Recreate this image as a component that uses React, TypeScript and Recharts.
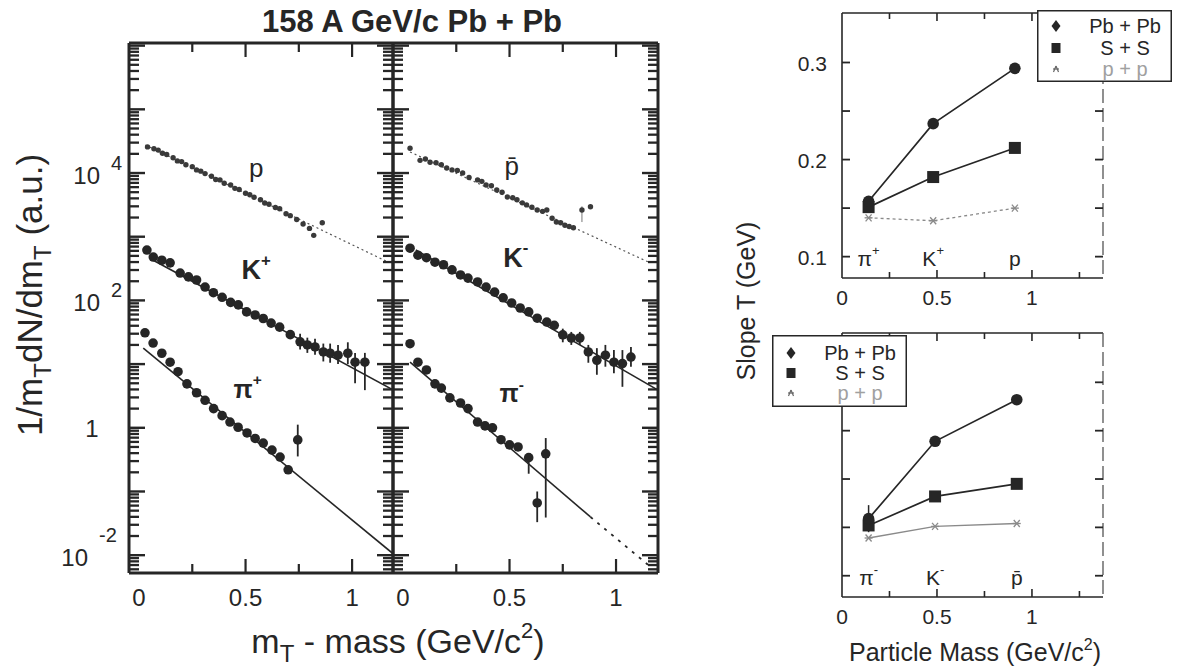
import React from 'react';
import { ComposedChart, Scatter, Line, XAxis, YAxis, ErrorBar, Legend } from 'recharts';

const FONT = '"Liberation Sans", Arial, Helvetica, sans-serif';
const INK = '#262626';
const PAGE_W = 1184;
const PAGE_H = 667;

// ---------------- left figure: m_T spectra ----------------
// rows: [mT - m (GeV/c^2), 1/mT dN/dmT (a.u.), optional error low value, error high value]
const PROTONS: number[][] = [
  [0.04, 25700], [0.07, 24000], [0.09, 22900], [0.11, 20400], [0.13, 19500], [0.16, 17400],
  [0.18, 15500], [0.2, 15100], [0.22, 13500], [0.25, 12600], [0.27, 11200], [0.29, 10700],
  [0.31, 9800], [0.34, 8900], [0.36, 7900], [0.38, 7800], [0.4, 6900], [0.43, 6500],
  [0.45, 5750], [0.47, 5500], [0.5, 4800], [0.52, 4570], [0.54, 4170], [0.57, 3800],
  [0.59, 3390], [0.61, 3240], [0.64, 2880], [0.66, 2750], [0.69, 2290], [0.71, 2140],
  [0.74, 1860], [0.77, 1580], [0.8, 1350], [0.82, 1050], [0.86, 1660],
];
const KAONS_POS: number[][] = [
  [0.037, 617], [0.067, 479], [0.107, 427], [0.146, 389], [0.193, 269], [0.232, 234],
  [0.27, 209], [0.31, 162], [0.349, 132], [0.39, 112], [0.43, 93], [0.466, 85],
  [0.505, 66], [0.545, 59], [0.583, 52], [0.62, 44], [0.66, 38], [0.71, 29],
  [0.756, 22.4, 17, 30], [0.79, 20, 15, 26], [0.826, 18.6, 14, 25], [0.865, 15.5, 11, 21],
  [0.897, 14.8, 10.5, 21], [0.934, 13.8, 10, 20], [0.98, 14.8, 10, 22], [1.014, 10.7, 5, 15],
  [1.06, 10.7, 3.9, 15],
];
const PIONS_POS: number[][] = [
  [0.028, 31], [0.066, 21.4], [0.107, 14.8], [0.146, 10.7], [0.183, 7.6], [0.225, 4.9],
  [0.27, 3.55], [0.31, 2.7], [0.35, 2.0], [0.39, 1.55], [0.427, 1.23], [0.465, 1.02],
  [0.507, 0.83], [0.545, 0.68], [0.583, 0.575], [0.624, 0.447], [0.662, 0.347], [0.7, 0.219],
  [0.745, 0.646, 0.355, 1.12],
];
const ANTIPROTONS: number[][] = [
  [0.033, 24500], [0.08, 15800], [0.105, 16600], [0.127, 14800], [0.155, 14500], [0.18, 13500],
  [0.205, 12000], [0.23, 11200], [0.255, 11000], [0.28, 10000], [0.31, 8500], [0.35, 7800],
  [0.37, 7400], [0.39, 6500], [0.415, 6300], [0.44, 5400], [0.465, 5000], [0.49, 4200],
  [0.515, 4100], [0.535, 3800], [0.56, 3400], [0.58, 3160], [0.605, 2900], [0.63, 2630],
  [0.655, 2500], [0.675, 2630], [0.7, 1950], [0.72, 1700], [0.74, 1660], [0.76, 1510],
  [0.78, 1450], [0.8, 1380], [0.84, 2630, 1700, 3000], [0.88, 2950],
];
const KAONS_NEG: number[][] = [
  [0.033, 660], [0.07, 513], [0.11, 468], [0.15, 398], [0.19, 363], [0.23, 302],
  [0.27, 251], [0.305, 224], [0.35, 195], [0.39, 162], [0.43, 135], [0.47, 110],
  [0.51, 91], [0.55, 76], [0.59, 66], [0.63, 52.5], [0.675, 45.7], [0.71, 40.7],
  [0.75, 28.8, 22, 36], [0.79, 25.7, 20, 32], [0.83, 25.7, 20, 32], [0.87, 15.5, 10.5, 20],
  [0.91, 11.5, 6.8, 17.8], [0.95, 13.8, 9.1, 20], [0.99, 10.7, 7.2, 16.6], [1.03, 10.2, 4.4, 16.6],
  [1.07, 12.9, 9.1, 18.6],
];
const PIONS_NEG: number[][] = [
  [0.033, 20.9], [0.07, 10.7], [0.11, 8.1], [0.15, 4.9], [0.18, 4.2], [0.22, 2.95],
  [0.27, 2.45], [0.305, 2.0], [0.35, 1.23], [0.385, 1.07], [0.42, 1.0], [0.46, 0.65],
  [0.5, 0.54], [0.54, 0.5], [0.59, 0.34, 0.19, 0.36], [0.63, 0.066, 0.033, 0.1],
  [0.67, 0.39, 0.039, 0.69],
];

// fitted exponentials, end points
const FIT_P = [[0.03, 27500], [1.17, 398]];
const FIT_K_POS = [[0.06, 440], [1.195, 3.9]];
const FIT_PI_POS = [[0.02, 17.8], [1.19, 0.0107]];
const FIT_PBAR = [[0.033, 21400], [1.16, 389]];
const FIT_K_NEG = [[0.06, 620], [1.197, 3.9]];
const FIT_PI_NEG = [[0.033, 10.7], [0.88, 0.0398]];
const FIT_PI_NEG_EXT = [[0.88, 0.0398], [1.15, 0.00708]];

const TAGS_POS = [
  { x: 0.55, y: 12000, base: 'p', sup: '', size: 26, bold: false },
  { x: 0.55, y: 300, base: 'K', sup: '+', size: 27, bold: true },
  { x: 0.51, y: 4.1, base: 'π', sup: '+', size: 25, bold: true },
];
const TAGS_NEG = [
  { x: 0.51, y: 13000, base: 'p\u0304', sup: '', size: 26, bold: false },
  { x: 0.53, y: 470, base: 'K', sup: '-', size: 27, bold: true },
  { x: 0.51, y: 3.5, base: 'π', sup: '-', size: 25, bold: true },
];

const Y_MIN = 0.00525;
const Y_MAX = 1.1e6;
const LOG_DECADES = [-3, -2, -1, 0, 1, 2, 3, 4, 5, 6];
const LOG_MINOR_STEPS = [2, 3, 4, 5, 6, 7, 8, 9];
const LOG_MAJOR_TICKS = LOG_DECADES.map((d) => Math.pow(10, d)).filter((v) => v >= Y_MIN && v <= Y_MAX);
const LOG_MINOR_TICKS = LOG_DECADES.flatMap((d) => LOG_MINOR_STEPS.map((s) => s * Math.pow(10, d))).filter(
  (v) => v >= Y_MIN && v <= Y_MAX
);
// helper axis in log10 units carrying the minor ticks
const LOG10_DOMAIN: [number, number] = [Math.log10(Y_MIN), Math.log10(Y_MAX)];
const LOG10_MINOR_TICKS = LOG_MINOR_TICKS.map((v) => Math.log10(v));
const LOG_TICK_LABELS = [
  { value: 1e4, base: '10', exp: '4' },
  { value: 1e2, base: '10', exp: '2' },
  { value: 1, base: '1', exp: '' },
  { value: 1e-2, base: '10', exp: '-2' },
];
const MT_TICKS = [0, 0.25, 0.5, 0.75, 1];
const MT_TICK_LABELS = [
  { value: 0, text: '0' },
  { value: 0.5, text: '0.5' },
  { value: 1, text: '1' },
];

// ---------------- right figure: inverse slopes ----------------
const MASS_POS = [0.14, 0.48, 0.91];
const T_PBPB_POS = [0.157, 0.237, 0.294];
const T_SS_POS = [0.151, 0.182, 0.212];
const T_PP_POS = [0.14, 0.137, 0.15];
const MASS_NEG = [0.14, 0.49, 0.92];
const T_PBPB_NEG = [0.159, 0.239, 0.282];
const T_SS_NEG = [0.152, 0.182, 0.195];
const T_PP_NEG = [0.139, 0.151, 0.154];
const PB_ERR_NEG = [0.014, 0, 0];
const PARTICLES_POS = [
  { base: 'π', sup: '+' },
  { base: 'K', sup: '+' },
  { base: 'p', sup: '' },
];
const PARTICLES_NEG = [
  { base: 'π', sup: '-' },
  { base: 'K', sup: '-' },
  { base: 'p\u0304', sup: '' },
];
const SLOPE_Y_TICKS = [0.1, 0.15, 0.2, 0.25, 0.3];
const SLOPE_Y_LABELS = [
  { value: 0.1, text: '0.1' },
  { value: 0.2, text: '0.2' },
  { value: 0.3, text: '0.3' },
];
const SLOPE_X_TICKS = [0, 0.25, 0.5, 0.75, 1, 1.25];
const SLOPE_X_LABELS = [
  { value: 0, text: '0' },
  { value: 0.5, text: '0.5' },
  { value: 1, text: '1' },
];
const LEGEND_ORDER = ['Pb + Pb', 'S + S', 'p + p'];

// ---------------- helpers ----------------
const same = (a: number, b: number) => Math.abs(a - b) <= 1e-6 * Math.max(1e-9, Math.abs(b));

const toPoints = (rows: number[][]) =>
  rows.map(([x, y, lo, hi]) => ({ x, y, e: lo === undefined ? [0, 0] : [y - lo, hi - y] }));
const toLine = (rows: number[][]) => rows.map(([x, y]) => ({ x, y }));

const dotShape = (r: number, fill: string) => (props: any) =>
  props.cx == null ? <g /> : <circle cx={props.cx} cy={props.cy} r={r} fill={fill} />;

const tagShape = (props: any) => {
  const d = props.payload ?? props;
  if (props.cx == null) return <g />;
  return (
    <text
      x={props.cx}
      y={props.cy}
      textAnchor="middle"
      dominantBaseline="central"
      fontFamily={FONT}
      fontSize={d.size}
      fontWeight={d.bold ? 700 : 400}
      fill={INK}
    >
      <tspan>{d.base}</tspan>
      {d.sup ? (
        <tspan dy={-d.size * 0.38} fontSize={d.size * 0.62}>
          {d.sup}
        </tspan>
      ) : null}
    </text>
  );
};

const logTick = (side: 'left' | 'right', labelled: boolean) => (props: any) => {
  const { x, y, payload } = props;
  const v = payload.value as number;
  const len = 16;
  const dir = side === 'left' ? 1 : -1;
  const lab = labelled ? LOG_TICK_LABELS.find((l) => same(v, l.value)) : undefined;
  let label: React.ReactNode = null;
  if (lab) {
    if (lab.exp === '') {
      label = (
        <text x={x - 37} y={y + 1} textAnchor="middle" dominantBaseline="central" fontSize={24} fontFamily={FONT} fill={INK}>
          {lab.base}
        </text>
      );
    } else {
      const neg = lab.exp.startsWith('-');
      label = (
        <g fontFamily={FONT} fill={INK}>
          <text x={x - (neg ? 41 : 29)} y={y + 2} textAnchor="end" dominantBaseline="central" fontSize={24}>
            {lab.base}
          </text>
          <text x={x - (neg ? 30 : 18)} y={y - (neg ? 20 : 10)} textAnchor="start" dominantBaseline="central" fontSize={20}>
            {lab.exp}
          </text>
        </g>
      );
    }
  }
  return (
    <g>
      <line x1={x} y1={y} x2={x + dir * len} y2={y} stroke={INK} strokeWidth={2.4} />
      {label}
    </g>
  );
};

// minor ticks on the log10 helper axes; the helper axis sits 1px outside the frame line
const minorTick = (side: 'left' | 'right') => (props: any) => {
  const { x, y } = props;
  const dir = side === 'left' ? 1 : -1;
  return <line x1={x + dir * 1} y1={y} x2={x + dir * 11} y2={y} stroke={INK} strokeWidth={2.3} />;
};

const xTick = (
  side: 'top' | 'bottom',
  labels: { value: number; text: string }[] | null,
  majorLen: number,
  minorLen: number,
  labelGap: number,
  fontSize: number,
  width: number
) => (props: any) => {
  const { x, y, payload } = props;
  const v = payload.value as number;
  const lab = labels ? labels.find((l) => Math.abs(l.value - v) < 1e-9) : undefined;
  const major = Math.abs(v * 2 - Math.round(v * 2)) < 1e-9;
  const len = v === 0 ? 0 : major ? majorLen : minorLen;
  const dir = side === 'bottom' ? -1 : 1;
  return (
    <g>
      {len > 0 && <line x1={x} y1={y} x2={x} y2={y + dir * len} stroke={INK} strokeWidth={width} />}
      {lab && (
        <text x={x} y={y + labelGap} textAnchor="middle" dominantBaseline="central" fontSize={fontSize} fontFamily={FONT} fill={INK}>
          {lab.text}
        </text>
      )}
    </g>
  );
};

const linTick = (side: 'left' | 'right', labels: { value: number; text: string }[] | null) => (props: any) => {
  const { x, y, payload } = props;
  const v = payload.value as number;
  const lab = labels ? labels.find((l) => Math.abs(l.value - v) < 1e-9) : undefined;
  const dir = side === 'left' ? 1 : -1;
  return (
    <g>
      <line x1={x} y1={y} x2={x + dir * 8} y2={y} stroke={INK} strokeWidth={1.8} />
      {lab && (
        <text x={x - 15} y={y + 1} textAnchor="end" dominantBaseline="central" fontSize={21} fontFamily={FONT} fill={INK}>
          {lab.text}
        </text>
      )}
    </g>
  );
};

// axes get a 1px size (0 would hide them); margins are reduced by that pixel
const AX = 1;

// ---------------- spectrum sub-panel ----------------
const SPEC_TOP = 43;
const SPEC_BOTTOM = 573;

type Fit = { rows: number[][]; color: string; width: number; dash?: string };

function SpectrumPanel(props: {
  plotLeft: number;
  plotRight: number;
  xDomain: [number, number];
  yLabels: boolean;
  heavy: number[][];
  kaons: number[][];
  pions: number[][];
  fits: Fit[];
  tags: typeof TAGS_POS;
}) {
  const { plotLeft, plotRight, xDomain, yLabels, heavy, kaons, pions, fits, tags } = props;
  const frame = { stroke: INK, strokeWidth: 3 };
  return (
    <div style={{ position: 'absolute', left: 0, top: 0, width: PAGE_W, height: PAGE_H }}>
      <ComposedChart
        width={PAGE_W}
        height={PAGE_H}
        margin={{
          top: SPEC_TOP - AX,
          bottom: PAGE_H - SPEC_BOTTOM - AX,
          left: plotLeft - 2 * AX,
          right: PAGE_W - plotRight - 2 * AX,
        }}
      >
        <XAxis xAxisId="b" dataKey="x" type="number" domain={xDomain} allowDataOverflow orientation="bottom" height={AX}
          ticks={MT_TICKS} interval={0} minTickGap={0} tickSize={0} tickMargin={0} tickLine={false} axisLine={frame}
          tick={xTick('bottom', MT_TICK_LABELS, 14, 9, 24, 24, 2.2)} />
        <XAxis xAxisId="t" dataKey="x" type="number" domain={xDomain} allowDataOverflow orientation="top" height={AX}
          ticks={MT_TICKS} interval={0} minTickGap={0} tickSize={0} tickMargin={0} tickLine={false} axisLine={frame}
          tick={xTick('top', null, 14, 9, 0, 24, 2.2)} />
        <YAxis yAxisId="l" dataKey="y" type="number" scale="log" domain={[Y_MIN, Y_MAX]} allowDataOverflow width={AX}
          ticks={LOG_MAJOR_TICKS} interval={0} minTickGap={0} tickSize={0} tickMargin={0} tickLine={false} axisLine={frame}
          tick={logTick('left', yLabels)} />
        <YAxis yAxisId="lm" type="number" domain={LOG10_DOMAIN} allowDataOverflow width={AX}
          ticks={LOG10_MINOR_TICKS} interval={0} minTickGap={0} tickSize={0} tickMargin={0} tickLine={false}
          axisLine={false} tick={minorTick('left')} />
        <YAxis yAxisId="r" dataKey="y" type="number" scale="log" domain={[Y_MIN, Y_MAX]} allowDataOverflow width={AX}
          orientation="right" ticks={LOG_MAJOR_TICKS} interval={0} minTickGap={0} tickSize={0} tickMargin={0} tickLine={false}
          axisLine={frame} tick={logTick('right', false)} />
        <YAxis yAxisId="rm" type="number" domain={LOG10_DOMAIN} allowDataOverflow width={AX} orientation="right"
          ticks={LOG10_MINOR_TICKS} interval={0} minTickGap={0} tickSize={0} tickMargin={0} tickLine={false}
          axisLine={false} tick={minorTick('right')} />
        {fits.map((f, i) => (
          <Line key={'fit' + i} xAxisId="b" yAxisId="l" data={toLine(f.rows)} dataKey="y" type="linear"
            stroke={f.color} strokeWidth={f.width} strokeDasharray={f.dash} dot={false} activeDot={false}
            isAnimationActive={false} legendType="none" />
        ))}
        <Scatter xAxisId="b" yAxisId="l" data={toPoints(heavy)} shape={dotShape(2.7, '#3a3a3a')}
          isAnimationActive={false} legendType="none">
          <ErrorBar dataKey="e" direction="y" width={0} stroke="#777" strokeWidth={1} />
        </Scatter>
        <Scatter xAxisId="b" yAxisId="l" data={toPoints(kaons)} shape={dotShape(4.8, INK)}
          isAnimationActive={false} legendType="none">
          <ErrorBar dataKey="e" direction="y" width={0} stroke={INK} strokeWidth={1.8} />
        </Scatter>
        <Scatter xAxisId="b" yAxisId="l" data={toPoints(pions)} shape={dotShape(4.8, INK)}
          isAnimationActive={false} legendType="none">
          <ErrorBar dataKey="e" direction="y" width={0} stroke={INK} strokeWidth={1.8} />
        </Scatter>
        <Scatter xAxisId="b" yAxisId="l" data={tags} shape={tagShape} isAnimationActive={false} legendType="none" />
      </ComposedChart>
    </div>
  );
}

// ---------------- slope panel ----------------
const SLOPE_LEFT = 842;
const SLOPE_RIGHT = 1103;
const SLOPE_DOMAIN_X: [number, number] = [0, 1.374];
const SLOPE_DOMAIN_Y: [number, number] = [0.078, 0.351];

const circleShape = (p: any) => (p.cx == null ? <g /> : <circle cx={p.cx} cy={p.cy} r={5.8} fill={INK} />);
const squareShape = (p: any) =>
  p.cx == null ? <g /> : <rect x={p.cx - 6} y={p.cy - 6} width={12} height={12} fill={INK} />;
const starShape = (p: any) =>
  p.cx == null ? (
    <g />
  ) : (
    <g stroke="#8a8a8a" strokeWidth={1.3}>
      <line x1={p.cx - 4} y1={p.cy} x2={p.cx + 4} y2={p.cy} />
      <line x1={p.cx - 3} y1={p.cy - 3.5} x2={p.cx + 3} y2={p.cy + 3.5} />
      <line x1={p.cx + 3} y1={p.cy - 3.5} x2={p.cx - 3} y2={p.cy + 3.5} />
    </g>
  );

const legendMarker = (name: string, cx: number, cy: number) => {
  if (name === 'Pb + Pb') return <path d={`M${cx},${cy - 6} L${cx + 4.5},${cy} L${cx},${cy + 6} L${cx - 4.5},${cy} Z`} fill={INK} />;
  if (name === 'S + S') return <rect x={cx - 4.5} y={cy - 5} width={9} height={10} fill={INK} />;
  return (
    <g stroke="#666" strokeWidth={1.2}>
      <line x1={cx - 3} y1={cy} x2={cx + 3} y2={cy} />
      <line x1={cx - 2.5} y1={cy + 3} x2={cx} y2={cy - 3} />
      <line x1={cx + 2.5} y1={cy + 3} x2={cx} y2={cy - 3} />
    </g>
  );
};

const legendContent = (rows: number[]) => (props: any) => {
  const present = new Set((props.payload ?? []).map((p: any) => p.value));
  const names = LEGEND_ORDER.filter((n) => present.has(n));
  return (
    <svg width={135} height={72} style={{ display: 'block' }}>
      <rect x={0.75} y={0.75} width={133.5} height={70.5} fill="#fff" stroke={INK} strokeWidth={1.5} />
      {names.map((n, i) => (
        <g key={n}>
          {legendMarker(n, 19, rows[i])}
          <text x={88} y={rows[i]} textAnchor="middle" dominantBaseline="central" fontFamily={FONT}
            fontSize={20} fill={n === 'p + p' ? '#a0a0a0' : INK}>
            {n}
          </text>
        </g>
      ))}
    </svg>
  );
};

function SlopePanel(props: {
  top: number;
  bottom: number;
  yLabels: boolean;
  masses: number[];
  pb: number[];
  ss: number[];
  pp: number[];
  pbErr: number[] | null;
  particles: { base: string; sup: string }[];
  tagY: number;
  ppDash?: string;
  legendLeft: number;
  legendTop: number;
  legendRows: number[];
}) {
  const { top, bottom, yLabels, masses, pb, ss, pp, pbErr, particles, tagY, ppDash, legendLeft, legendTop, legendRows } = props;
  const frame = { stroke: INK, strokeWidth: 1.6 };
  const pbData = masses.map((m, i) => ({ x: m, y: pb[i], e: pbErr ? pbErr[i] : 0 }));
  const ssData = masses.map((m, i) => ({ x: m, y: ss[i] }));
  const ppData = masses.map((m, i) => ({ x: m, y: pp[i] }));
  const tagData = masses.map((m, i) => ({ x: m, y: tagY, base: particles[i].base, sup: particles[i].sup, size: 21, bold: false }));
  return (
    <div style={{ position: 'absolute', left: 0, top: 0, width: PAGE_W, height: PAGE_H }}>
      <ComposedChart
        width={PAGE_W}
        height={PAGE_H}
        margin={{ top: top - AX, bottom: PAGE_H - bottom - AX, left: SLOPE_LEFT - AX, right: PAGE_W - SLOPE_RIGHT - AX }}
      >
        <XAxis xAxisId="b" dataKey="x" type="number" domain={SLOPE_DOMAIN_X} allowDataOverflow orientation="bottom"
          height={AX} ticks={SLOPE_X_TICKS} interval={0} tickSize={0} tickMargin={0} tickLine={false} axisLine={frame}
          tick={xTick('bottom', SLOPE_X_LABELS, 8, 6, 19, 21, 1.6)} />
        <XAxis xAxisId="t" dataKey="x" type="number" domain={SLOPE_DOMAIN_X} allowDataOverflow orientation="top"
          height={AX} ticks={SLOPE_X_TICKS} interval={0} tickSize={0} tickMargin={0} tickLine={false} axisLine={frame}
          tick={xTick('top', null, 8, 6, 0, 21, 1.6)} />
        <YAxis yAxisId="l" dataKey="y" type="number" domain={SLOPE_DOMAIN_Y} allowDataOverflow width={AX}
          ticks={SLOPE_Y_TICKS} interval={0} tickSize={0} tickMargin={0} tickLine={false} axisLine={frame}
          tick={linTick('left', yLabels ? SLOPE_Y_LABELS : null)} />
        <YAxis yAxisId="r" dataKey="y" type="number" domain={SLOPE_DOMAIN_Y} allowDataOverflow width={AX}
          orientation="right" ticks={SLOPE_Y_TICKS} interval={0} tickSize={0} tickMargin={0} tickLine={false}
          axisLine={{ stroke: '#555', strokeWidth: 1.3, strokeDasharray: '14 5' }} tick={linTick('right', null)} />
        <Scatter name="p + p" xAxisId="b" yAxisId="l" data={ppData} fill="#8a8a8a"
          line={{ stroke: '#8a8a8a', strokeWidth: 1.3, strokeDasharray: ppDash }} lineType="joint"
          shape={starShape} isAnimationActive={false} />
        <Scatter name="S + S" xAxisId="b" yAxisId="l" data={ssData} fill={INK}
          line={{ stroke: INK, strokeWidth: 1.7 }} lineType="joint" shape={squareShape} isAnimationActive={false} />
        <Scatter name="Pb + Pb" xAxisId="b" yAxisId="l" data={pbData} fill={INK}
          line={{ stroke: INK, strokeWidth: 1.7 }} lineType="joint" shape={circleShape} isAnimationActive={false}>
          {pbErr ? <ErrorBar dataKey="e" direction="y" width={0} stroke={INK} strokeWidth={1.5} /> : null}
        </Scatter>
        <Scatter xAxisId="b" yAxisId="l" data={tagData} shape={tagShape} isAnimationActive={false} legendType="none" />
        <Legend
          layout="vertical"
          align="center"
          verticalAlign="middle"
          content={legendContent(legendRows)}
          wrapperStyle={{ position: 'absolute', left: legendLeft, top: legendTop, width: 135, height: 72, margin: 0, padding: 0, lineHeight: 0 }}
        />
      </ComposedChart>
    </div>
  );
}

// ---------------- page ----------------
export default function App() {
  return (
    <div style={{ position: 'absolute', left: 0, top: 0, width: PAGE_W, height: PAGE_H, background: '#fff', overflow: 'hidden' }}>
      <SpectrumPanel
        plotLeft={129}
        plotRight={393}
        xDomain={[-0.047, 1.192]}
        yLabels
        heavy={PROTONS}
        kaons={KAONS_POS}
        pions={PIONS_POS}
        fits={[
          { rows: FIT_P, color: '#555', width: 1.2, dash: '2 3' },
          { rows: FIT_K_POS, color: INK, width: 1.6 },
          { rows: FIT_PI_POS, color: INK, width: 1.6 },
        ]}
        tags={TAGS_POS}
      />
      <SpectrumPanel
        plotLeft={393}
        plotRight={658}
        xDomain={[-0.047, 1.197]}
        yLabels={false}
        heavy={ANTIPROTONS}
        kaons={KAONS_NEG}
        pions={PIONS_NEG}
        fits={[
          { rows: FIT_PBAR, color: '#555', width: 1.2, dash: '2 3' },
          { rows: FIT_K_NEG, color: INK, width: 1.6 },
          { rows: FIT_PI_NEG, color: INK, width: 1.6 },
          { rows: FIT_PI_NEG_EXT, color: INK, width: 1.8, dash: '3 6' },
        ]}
        tags={TAGS_NEG}
      />
      <SlopePanel
        top={13}
        bottom={278}
        yLabels
        masses={MASS_POS}
        pb={T_PBPB_POS}
        ss={T_SS_POS}
        pp={T_PP_POS}
        pbErr={null}
        particles={PARTICLES_POS}
        tagY={0.099}
        ppDash="3 3"
        legendLeft={1037}
        legendTop={10}
        legendRows={[16, 38, 59]}
      />
      <SlopePanel
        top={333}
        bottom={597}
        yLabels={false}
        masses={MASS_NEG}
        pb={T_PBPB_NEG}
        ss={T_SS_NEG}
        pp={T_PP_NEG}
        pbErr={PB_ERR_NEG}
        particles={PARTICLES_NEG}
        tagY={0.0985}
        legendLeft={772}
        legendTop={335}
        legendRows={[18, 38, 58]}
      />
      <svg width={PAGE_W} height={PAGE_H} style={{ position: 'absolute', left: 0, top: 0, pointerEvents: 'none' }}>
        <g fontFamily={FONT} fill={INK}>
          <text x={412} y={32} textAnchor="middle" fontSize={31} fontWeight={700}>
            158 A GeV/c Pb + Pb
          </text>
          <text x={398} y={653} textAnchor="middle" fontSize={34}>
            <tspan>m</tspan>
            <tspan fontSize={24} dy={9}>T</tspan>
            <tspan dy={-9}> - mass (GeV/c</tspan>
            <tspan fontSize={22} dy={-15}>2</tspan>
            <tspan dy={15}>)</tspan>
          </text>
          <text transform="translate(42,295) rotate(-90)" textAnchor="middle" fontSize={35}>
            <tspan>1/m</tspan>
            <tspan fontSize={24} dy={9}>T</tspan>
            <tspan dy={-9}>dN/dm</tspan>
            <tspan fontSize={24} dy={9}>T</tspan>
            <tspan dy={-9}> (a.u.)</tspan>
          </text>
          <text transform="translate(755,301) rotate(-90)" textAnchor="middle" fontSize={25}>
            Slope T (GeV)
          </text>
          <text x={975} y={661} textAnchor="middle" fontSize={25}>
            <tspan>Particle Mass (GeV/c</tspan>
            <tspan fontSize={16} dy={-11}>2</tspan>
            <tspan dy={11}>)</tspan>
          </text>
        </g>
      </svg>
    </div>
  );
}
